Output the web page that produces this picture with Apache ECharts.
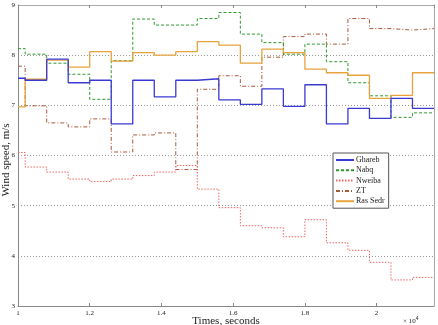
<!DOCTYPE html>
<html>
<head>
<meta charset="utf-8">
<script src="https://cdn.jsdelivr.net/npm/echarts@6/dist/echarts.min.js"></script>
<style>
    html, body {margin: 0; padding: 0; background: #fff;}
    #chart {width: 438px; height: 325px;}
</style>
</head>
<body>
<div id="chart"></div>
<script>
// step start times (s), last entry closes the final step
var times = [10000, 10200, 10800, 11400, 12000, 12600, 13200, 13800, 14400, 15000,
    15600, 16200, 16800, 17400, 18000, 18600, 19200, 19800, 20400, 21000, 21600];

var ghareb = [7.54, 7.50, 7.92, 7.45, 7.50, 6.63, 7.50, 7.17, 7.50, 7.53,
    7.11, 7.02, 7.33, 6.98, 7.41, 6.63, 6.94, 6.74, 7.14, 6.94];
var nabq = [8.13, 8.02, 7.84, 7.62, 7.12, 7.89, 8.72, 8.60, 8.60, 8.73,
    8.85, 8.42, 8.25, 8.02, 8.22, 7.87, 7.45, 7.19, 6.76, 6.85];
var nweiba = [6.06, 5.77, 5.67, 5.53, 5.48, 5.53, 5.60, 5.67, 5.80, 5.33,
    4.96, 4.60, 4.56, 4.38, 4.72, 4.26, 4.11, 3.87, 3.52, 3.57];
var zt = [7.78, 6.99, 6.65, 6.57, 6.73, 6.07, 6.41, 6.45, 5.72, 7.32,
    7.59, 7.38, 7.96, 8.37, 8.42, 8.22, 8.73, 8.53, 8.50, 8.53];
var rasSedr = [6.97, 7.52, 7.90, 7.76, 8.07, 7.88, 8.05, 8.00, 8.07, 8.27,
    8.20, 7.84, 8.12, 8.05, 7.72, 7.65, 7.60, 7.14, 7.20, 7.65];

var font = 'Liberation Serif';

// pair each value with its start time, repeat last value at the end time
function toSteps(values) {
    var out = [];
    values.forEach(function (v, i) {
        out.push([times[i], v]);
    });
    out.push([times[values.length], values[values.length - 1]]);
    return out;
}

function stepSeries(name, values, color, type, width) {
    return {
        name: name,
        type: 'line',
        step: 'end',
        symbol: 'none',
        silent: true,
        data: toSteps(values),
        lineStyle: {color: color, width: width, type: type},
        itemStyle: {color: color}
    };
}

var option = {
    animation: false,
    backgroundColor: '#fff',
    grid: {left: 18, right: 4, top: 5, bottom: 19, containLabel: false, outerBoundsMode: 'none'},
    legend: {
        orient: 'vertical',
        left: 333,
        top: 153,
        padding: [3, 4, 3, 2],
        itemGap: 2.3,
        itemWidth: 18,
        itemHeight: 8,
        backgroundColor: '#fff',
        borderColor: '#555',
        borderWidth: 1,
        borderRadius: 0,
        itemStyle: {opacity: 0},
        textStyle: {fontFamily: font, fontSize: 8, color: '#222', padding: [0, 0, 0, -3]},
        data: ['Ghareb', 'Nabq', 'Nweiba', 'ZT', 'Ras Sedr']
    },
    xAxis: [
        {
            type: 'value',
            min: 10000,
            max: 21600,
            interval: 2000,
            axisLine: {lineStyle: {color: '#888'}},
            axisTick: {inside: true, length: 3, lineStyle: {color: '#888'}},
            axisLabel: {
                fontFamily: font, fontSize: 7, color: '#222', margin: 4,
                showMaxLabel: false,
                formatter: function (v) { return String(v / 10000); }
            },
            splitLine: {show: false}
        },
        {
            type: 'value',
            position: 'top',
            min: 10000,
            max: 21600,
            interval: 2000,
            axisLine: {lineStyle: {color: '#aaa'}},
            axisTick: {inside: true, length: 3, lineStyle: {color: '#888'}},
            axisLabel: {show: false},
            splitLine: {show: false}
        }
    ],
    yAxis: [
        {
            type: 'value',
            min: 3,
            max: 9,
            interval: 1,
            axisLine: {lineStyle: {color: '#888'}},
            axisTick: {show: false},
            axisLabel: {fontFamily: font, fontSize: 7, color: '#222', margin: 3},
            splitLine: {lineStyle: {color: '#999', type: [1, 2], width: 1}}
        },
        {
            type: 'value',
            position: 'right',
            min: 3,
            max: 9,
            interval: 1,
            axisLine: {show: true, lineStyle: {color: '#aaa'}},
            axisTick: {show: false},
            axisLabel: {show: false},
            splitLine: {show: false}
        }
    ],
    graphic: [
        {
            type: 'text',
            x: 226,
            y: 316,
            style: {
                text: 'Times, seconds',
                fontFamily: font,
                fontSize: 11,
                fill: '#222',
                align: 'center',
                verticalAlign: 'top'
            }
        },
        {
            type: 'text',
            x: 1,
            y: 160,
            rotation: Math.PI / 2,
            style: {
                text: 'Wind speed, m/s',
                fontFamily: font,
                fontSize: 11,
                fill: '#222',
                align: 'center',
                verticalAlign: 'top'
            }
        },
        {
            type: 'text',
            x: 403,
            y: 316,
            style: {
                text: '× 10{s|4}',
                fontFamily: font,
                fontSize: 7,
                fill: '#222',
                rich: {s: {fontSize: 5, verticalAlign: 'top', padding: [0, 0, 6, 0]}}
            }
        }
    ],
    series: [
        stepSeries('ZT', zt, '#a85a3c', [4, 2, 1, 2], 1),
        stepSeries('Nweiba', nweiba, '#f06464', [1.5, 1.5], 1),
        stepSeries('Nabq', nabq, '#2e9a2e', [3, 2], 1),
        stepSeries('Ras Sedr', rasSedr, '#e8a23c', 'solid', 1.3),
        stepSeries('Ghareb', ghareb, '#3a3ad2', 'solid', 1.3)
    ]
};

echarts.init(document.getElementById('chart')).setOption(option, true);
</script>
</body>
</html>
